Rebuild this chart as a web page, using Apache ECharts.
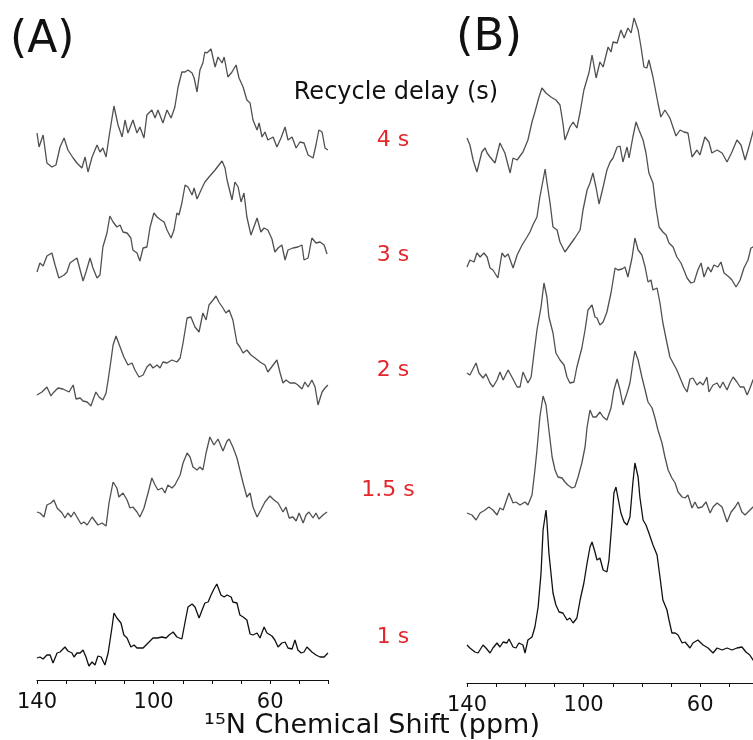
<!DOCTYPE html>
<html><head><meta charset="utf-8">
<script src="https://cdn.jsdelivr.net/npm/echarts@6/dist/echarts.min.js"></script>
<style>html,body{margin:0;padding:0;background:#fff}#c{width:753px;height:740px}</style>
</head><body><div id="c"></div>
<script>
// Recycle delays (one trace per delay, top to bottom)
const delays = ['4 s', '3 s', '2 s', '1.5 s', '1 s'];
const tickLabels = [140, 100, 60];
// vertical stacking offsets (intensity units)
const offsetsA = [520, 405, 280, 160, 20];
const offsetsB = [523, 408, 298, 168, 33];

// Panel A spectra: [ppm, intensity]
const a4s = [[140.0,27],[139.3,13],[137.9,25],[136.6,-3],[134.9,-7],[133.5,-5],[132.1,13],[130.7,22],[129.4,10],[127.6,2],[126.3,-3],[124.6,-8],[123.5,3],[122.5,-12],[121.1,3],[119.4,15],[118.4,8],[117.4,12],[116.3,3],[115.3,23],[113.6,54],[112.2,35],[110.8,23],[109.8,40],[108.8,27],[107.1,40],[105.7,27],[104.7,33],[103.3,22],[102.3,45],[100.6,50],[99.5,42],[98.5,50],[96.8,37],[95.4,50],[94.0,42],[92.7,53],[91.6,73],[90.3,88],[89.2,88],[88.2,90],[86.8,87],[86.1,82],[85.1,68],[84.1,90],[83.1,97],[82.4,108],[81.7,107],[80.3,111],[78.9,93],[77.9,103],[76.5,97],[75.8,103],[74.5,83],[73.1,88],[71.7,95],[70.7,82],[69.3,73],[68.0,60],[66.9,57],[65.9,40],[64.5,30],[63.8,37],[62.8,23],[61.8,28],[60.8,20],[59.0,23],[57.7,13],[56.3,22],[54.9,33],[53.9,20],[52.5,23],[51.1,12],[49.8,18],[48.4,17],[47.0,5],[45.3,2],[44.3,15],[43.3,30],[42.2,28],[41.2,12],[40.2,10]];
const a3s = [[140.0,3],[139.0,12],[137.9,9],[136.6,19],[134.9,22],[133.8,10],[132.5,-3],[130.7,0],[129.7,3],[128.7,12],[127.3,15],[126.3,17],[125.2,5],[124.2,-6],[123.2,3],[121.8,17],[120.8,7],[119.4,-3],[118.4,0],[117.4,28],[116.0,42],[115.0,59],[113.9,53],[112.6,48],[111.5,50],[110.5,43],[109.1,42],[107.8,37],[107.1,25],[105.7,22],[104.7,14],[103.6,27],[102.3,28],[101.2,48],[99.9,62],[98.8,58],[97.5,55],[96.4,53],[95.4,45],[94.0,37],[93.0,45],[92.0,62],[91.3,60],[90.3,72],[89.2,90],[88.2,88],[86.8,80],[86.1,87],[85.1,76],[83.4,87],[82.4,93],[80.7,99],[78.9,105],[77.6,110],[76.5,114],[75.5,107],[74.8,95],[73.1,75],[72.1,93],[71.0,88],[70.0,73],[69.0,82],[68.0,58],[66.6,40],[65.6,48],[64.5,57],[63.2,43],[62.1,47],[60.8,45],[59.4,36],[58.4,23],[57.3,27],[56.0,30],[54.9,15],[53.9,25],[52.2,27],[50.5,28],[49.1,30],[48.4,15],[47.0,17],[45.7,37],[44.3,32],[42.9,33],[41.5,30],[40.5,21]];
const a2s = [[140.0,5],[138.3,8],[136.6,13],[135.2,4],[134.5,7],[132.8,12],[131.1,11],[129.0,8],[127.6,15],[126.6,1],[125.2,2],[124.2,-1],[122.8,-2],[121.5,-6],[120.8,0],[119.8,8],[118.7,3],[117.4,0],[116.3,7],[115.6,20],[114.6,40],[113.9,55],[112.9,64],[111.5,53],[110.2,43],[108.8,35],[107.4,37],[106.4,30],[105.0,23],[103.6,25],[102.3,33],[101.2,36],[100.2,32],[98.8,35],[97.8,32],[96.8,38],[95.4,37],[93.7,40],[92.0,38],[90.9,42],[89.9,57],[88.5,82],[87.2,83],[85.8,73],[84.4,68],[83.1,87],[82.0,80],[81.0,95],[79.6,100],[78.6,104],[77.6,98],[76.2,92],[75.2,87],[74.1,90],[72.8,80],[71.4,57],[70.4,53],[69.3,47],[68.0,50],[66.6,45],[65.2,42],[63.5,38],[61.8,35],[60.8,28],[59.0,35],[57.7,40],[56.6,27],[55.6,17],[54.6,20],[53.2,17],[51.5,17],[50.5,15],[49.1,11],[48.1,18],[47.0,13],[45.7,20],[44.6,13],[43.6,-5],[42.2,8],[41.2,12],[40.2,15]];
const a15s = [[140.0,8],[139.0,7],[137.6,3],[136.6,15],[135.2,17],[134.2,20],[133.1,12],[131.4,7],[130.4,2],[129.4,7],[128.3,3],[127.3,8],[126.3,3],[124.9,-4],[123.9,-2],[122.8,-5],[121.1,3],[120.1,-1],[119.1,-5],[117.7,-3],[116.3,-6],[115.3,17],[113.9,38],[112.6,32],[111.9,23],[110.5,27],[109.1,20],[108.1,12],[107.1,13],[105.7,8],[104.7,3],[103.3,12],[101.9,27],[100.6,42],[99.5,35],[98.5,30],[97.1,32],[96.1,27],[95.1,35],[93.7,32],[92.7,35],[90.9,45],[89.9,57],[88.5,67],[87.5,63],[86.5,53],[85.1,50],[84.1,53],[83.1,50],[82.0,67],[80.7,83],[79.3,75],[77.9,81],[76.2,69],[74.8,79],[74.1,81],[72.8,73],[71.4,62],[70.4,50],[69.3,37],[68.0,23],[66.9,27],[65.9,13],[64.5,3],[63.2,10],[61.8,18],[60.1,24],[58.7,20],[57.3,17],[55.6,8],[54.6,13],[53.5,2],[52.2,3],[51.1,-1],[50.1,7],[48.7,-3],[47.7,5],[46.7,8],[45.3,2],[44.3,7],[43.3,1],[41.9,5],[40.5,8]];
const a1s = [[140.0,2],[139.0,3],[137.9,1],[136.6,5],[135.5,5],[134.5,-3],[133.1,7],[132.1,8],[130.4,13],[129.4,9],[128.0,7],[127.3,3],[126.3,7],[125.2,7],[124.2,10],[123.2,3],[122.2,-6],[121.1,-2],[120.1,-5],[119.1,4],[118.0,3],[116.7,-5],[115.6,7],[114.3,32],[113.6,47],[112.6,42],[111.2,37],[110.2,25],[109.1,22],[107.8,13],[106.7,15],[105.7,12],[103.6,12],[101.9,17],[100.2,22],[98.8,22],[97.1,23],[95.7,22],[94.7,25],[93.3,28],[92.0,23],[90.3,21],[89.2,38],[88.2,53],[86.8,56],[85.8,53],[84.4,42],[83.1,52],[82.4,57],[81.3,58],[80.3,65],[79.3,71],[78.3,76],[76.9,65],[75.8,63],[74.8,65],[73.4,63],[72.8,58],[71.4,57],[70.4,45],[69.3,43],[68.0,40],[66.9,26],[65.9,25],[64.5,27],[63.5,22],[62.1,33],[61.1,27],[59.4,24],[58.4,20],[57.3,13],[56.0,17],[54.9,18],[53.9,12],[52.5,11],[51.5,20],[50.5,10],[49.4,7],[48.4,8],[47.4,13],[45.7,8],[44.3,5],[42.9,3],[41.5,3],[40.2,7]];

// Panel B spectra: [ppm, intensity]
const b4s = [[140.0,22],[139.0,15],[137.9,0],[136.6,-12],[134.9,8],[133.8,12],[133.1,7],[132.1,3],[130.4,-3],[128.7,17],[127.0,7],[125.2,-13],[124.2,2],[122.8,0],[120.8,8],[119.1,20],[117.7,38],[116.7,48],[115.3,63],[114.3,72],[112.9,67],[111.2,63],[109.5,60],[108.1,55],[107.1,37],[106.4,20],[104.7,33],[103.6,38],[102.3,32],[101.2,48],[99.9,70],[98.1,88],[97.1,105],[95.7,82],[94.4,98],[93.3,93],[91.6,113],[90.6,108],[89.9,118],[88.5,117],[87.2,130],[86.1,122],[84.8,132],[83.7,127],[82.7,142],[81.3,130],[80.3,113],[79.3,93],[78.3,92],[77.6,100],[76.2,83],[74.5,57],[73.5,43],[72.1,50],[70.4,42],[68.3,24],[66.9,30],[65.6,28],[64.2,27],[62.8,3],[61.1,10],[60.1,5],[58.4,23],[57.0,18],[56.0,7],[54.2,10],[52.5,7],[50.8,-2],[49.1,8],[47.4,20],[46.0,15],[44.6,0],[43.6,10],[41.9,28],[41.0,38]];
const b3s = [[140.0,8],[139.0,15],[137.6,13],[136.6,22],[135.5,18],[134.2,22],[133.1,18],[132.1,7],[131.1,5],[129.4,-3],[128.0,22],[127.0,18],[125.9,21],[124.2,7],[122.8,20],[121.1,30],[119.4,38],[118.4,43],[117.4,50],[116.0,58],[115.0,78],[113.9,95],[113.2,106],[112.6,93],[111.5,72],[110.5,48],[109.1,45],[108.1,33],[106.4,23],[104.7,30],[103.0,37],[101.2,45],[100.2,65],[98.8,85],[97.8,92],[96.8,102],[95.7,87],[94.7,71],[93.3,88],[92.0,105],[90.9,113],[89.9,117],[88.5,128],[87.5,129],[86.5,113],[85.1,128],[84.4,117],[83.1,138],[82.0,153],[81.0,145],[79.6,135],[78.6,122],[77.6,102],[76.2,92],[75.2,68],[74.1,48],[72.8,43],[71.7,40],[70.7,32],[69.3,28],[68.0,18],[66.6,12],[65.6,5],[64.5,-3],[63.2,-8],[62.1,-7],[60.8,5],[59.7,12],[58.7,-2],[57.3,8],[56.3,3],[55.3,10],[53.9,8],[52.9,13],[51.8,2],[50.1,-2],[49.1,-5],[47.7,-12],[46.3,-5],[45.0,7],[43.6,15],[42.6,27],[41.9,28],[41.0,32]];
const b2s = [[140.0,12],[139.0,10],[136.9,22],[135.9,12],[134.5,7],[133.5,11],[132.1,2],[131.1,-2],[129.7,5],[128.7,13],[127.6,5],[125.9,15],[124.6,8],[122.8,-2],[121.8,-2],[120.8,13],[119.1,2],[118.0,8],[117.0,32],[116.0,55],[114.6,78],[113.6,102],[112.6,88],[111.9,68],[110.5,52],[109.5,32],[108.1,25],[106.7,20],[105.7,8],[104.7,2],[103.3,3],[102.3,18],[100.6,37],[99.5,55],[98.5,75],[97.1,80],[96.1,68],[95.4,67],[94.4,60],[93.3,63],[92.0,73],[90.6,92],[89.2,117],[88.2,115],[86.8,116],[85.8,118],[84.8,108],[83.4,127],[82.4,147],[81.3,135],[80.0,130],[78.9,118],[77.9,103],[76.9,105],[76.2,95],[74.8,97],[73.8,82],[72.8,62],[71.4,42],[70.4,28],[69.3,22],[68.0,15],[66.6,5],[65.6,-2],[64.5,-7],[63.5,6],[62.5,7],[61.1,0],[60.1,3],[59.0,0],[57.7,8],[57.0,-7],[55.6,0],[54.2,2],[53.2,-3],[52.2,3],[50.8,-5],[49.8,2],[48.7,8],[47.4,3],[46.3,-2],[45.0,-2],[43.9,-10],[42.9,-3],[41.9,5],[41.0,8]];
const b15s = [[140.0,2],[138.3,0],[136.9,-5],[135.5,2],[133.8,5],[132.5,8],[131.1,5],[129.7,0],[128.7,7],[127.6,5],[125.6,22],[124.2,12],[123.2,13],[121.8,10],[120.1,13],[119.1,10],[117.7,20],[116.7,45],[116.0,65],[115.0,98],[113.9,119],[112.9,110],[111.9,85],[110.8,58],[109.8,45],[108.8,38],[107.4,37],[106.4,33],[105.4,30],[104.0,27],[103.0,28],[101.9,38],[100.6,52],[99.5,68],[98.8,88],[97.8,105],[96.8,98],[95.7,98],[94.4,103],[93.3,98],[92.0,95],[90.6,107],[89.6,125],[88.5,136],[87.5,125],[86.5,110],[85.1,122],[84.1,132],[83.1,152],[82.4,164],[81.3,155],[80.0,138],[78.9,125],[77.9,113],[76.5,107],[75.5,97],[74.5,85],[73.1,72],[72.1,58],[71.0,45],[69.7,37],[68.6,32],[67.6,23],[66.2,18],[65.2,17],[64.2,20],[62.8,7],[61.8,13],[60.8,7],[59.4,8],[58.0,13],[56.6,2],[55.6,8],[54.2,12],[52.5,8],[50.8,-7],[49.4,3],[48.0,8],[47.0,13],[45.7,3],[44.6,0],[43.6,3],[41.9,8],[41.0,10]];
const b1s = [[140.0,5],[139.0,2],[137.3,-2],[136.2,-3],[134.5,5],[133.5,2],[132.1,-3],[131.1,2],[129.7,7],[128.7,3],[127.6,8],[126.3,7],[125.6,11],[124.2,3],[123.2,2],[122.2,7],[120.8,5],[120.1,-3],[119.1,10],[117.7,13],[116.7,23],[115.6,43],[114.6,77],[113.9,120],[112.9,140],[112.6,130],[111.9,97],[110.5,57],[109.5,45],[108.4,38],[107.1,37],[105.7,30],[104.7,32],[103.6,27],[102.3,32],[101.2,50],[99.9,67],[98.8,87],[97.8,103],[97.1,108],[96.1,98],[95.4,90],[94.4,92],[93.3,80],[92.0,78],[91.3,90],[90.3,127],[89.6,157],[88.9,163],[88.2,152],[87.2,137],[86.1,128],[85.1,125],[84.1,133],[83.1,167],[82.4,187],[81.3,173],[80.7,153],[79.6,130],[78.6,125],[77.6,117],[76.2,105],[74.8,95],[73.8,73],[72.8,50],[71.4,40],[70.7,30],[69.7,17],[68.6,17],[67.6,15],[66.2,7],[65.2,8],[63.5,2],[62.5,7],[60.8,10],[59.0,5],[57.3,2],[55.6,-3],[54.2,2],[52.5,0],[50.8,2],[49.1,0],[47.4,2],[45.7,3],[44.3,-2],[43.0,-5],[41.9,-10],[41.0,-12]];

const tracesA = [a4s, a3s, a2s, a15s, a1s];
const tracesB = [b4s, b3s, b2s, b15s, b1s];

const FONT = 'DejaVu Sans';
const lineColors = ['#505050', '#505050', '#505050', '#505050', '#111111'];

function makeX(idx) {
  return {
    type: 'value', gridIndex: idx, inverse: true, min: 40, max: 140, interval: 10,
    axisLine: { show: true, onZero: false, lineStyle: { color: '#111', width: 1.2 } },
    axisTick: { show: true, inside: false, length: 4, lineStyle: { color: '#111', width: 1 } },
    splitLine: { show: false },
    axisLabel: {
      show: true, margin: 12, fontFamily: FONT, fontSize: 21, color: '#111',
      showMinLabel: true, showMaxLabel: true,
      formatter: v => tickLabels.includes(v) ? String(v) : ''
    }
  };
}
function makeY(idx) {
  return { type: 'value', gridIndex: idx, min: 0, max: 680, show: false,
    axisLine: { show: false }, axisTick: { show: false }, axisLabel: { show: false }, splitLine: { show: false } };
}

const series = [];
tracesA.forEach((t, i) => series.push({
  type: 'line', xAxisIndex: 0, yAxisIndex: 0, symbol: 'none', silent: true, animation: false,
  lineStyle: { color: lineColors[i], width: 1.3 },
  data: t.map(p => [p[0], p[1] + offsetsA[i]])
}));
tracesB.forEach((t, i) => series.push({
  type: 'line', xAxisIndex: 1, yAxisIndex: 1, symbol: 'none', silent: true, animation: false,
  lineStyle: { color: lineColors[i], width: 1.3 },
  data: t.map(p => [p[0], p[1] + offsetsB[i]])
}));

const delayY = [140, 255, 370, 490, 637];
const graphics = [
  { type: 'text', left: 10, top: 19, style: { text: '(A)', font: '44px "DejaVu Sans"', fill: '#111' } },
  { type: 'text', left: 456, top: 16, style: { text: '(B)', font: '45px "DejaVu Sans"', fill: '#111' } },
  { type: 'text', x: 396, y: 93, style: { text: 'Recycle delay (s)', font: '24px "DejaVu Sans"', fill: '#111', textAlign: 'center', textVerticalAlign: 'middle' } },
  { type: 'text', x: 372, y: 726, style: { text: '\u00B9\u2075N Chemical Shift (ppm)', font: '27px "DejaVu Sans"', fill: '#111', textAlign: 'center', textVerticalAlign: 'middle' } }
];
delays.forEach((d, i) => graphics.push({
  type: 'text', x: i === 3 ? 388 : 393, y: delayY[i],
  style: { text: d, font: '22px "DejaVu Sans"', fill: '#e3262b', textAlign: 'center', textVerticalAlign: 'middle' }
}));

const chart = echarts.init(document.getElementById('c'), null, { renderer: 'canvas' });
chart.setOption({
  backgroundColor: '#ffffff',
  animation: false,
  grid: [
    { left: 37, top: 0, width: 291.5, height: 680, containLabel: false, outerBoundsMode: 'none' },
    { left: 467, top: 3, width: 291.5, height: 680, containLabel: false, outerBoundsMode: 'none' }
  ],
  xAxis: [makeX(0), makeX(1)],
  yAxis: [makeY(0), makeY(1)],
  series: series,
  graphic: graphics
});
</script>
</body></html>
